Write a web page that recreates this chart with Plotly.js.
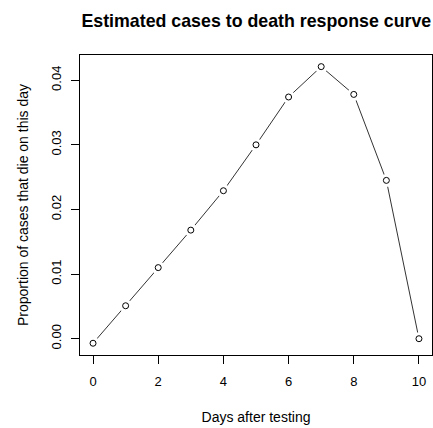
<!DOCTYPE html>
<html>
<head>
<meta charset="utf-8">
<script src="https://cdn.plot.ly/plotly-3.0.1.min.js"></script>
<style>html,body{margin:0;padding:0;background:#fff;}#chart{width:433px;height:428px;}</style>
</head>
<body>
<div id="chart"></div>
<script>
var days = [0, 1, 2, 3, 4, 5, 6, 7, 8, 9, 10];
var proportion = [-0.0007, 0.0051, 0.0110, 0.0168, 0.0229, 0.0300, 0.0374, 0.0421, 0.0378, 0.0245, 0.0000];
var xTicks = [0, 2, 4, 6, 8, 10];
var yTicks = [0.00, 0.01, 0.02, 0.03, 0.04];
var yTickText = ["0.00", "0.01", "0.02", "0.03", "0.04"];

var font = "Liberation Sans, Arial, sans-serif";
var traces = [
  {x: days, y: proportion, type: "scatter", mode: "lines",
   line: {color: "#333", width: 1}, hoverinfo: "skip", showlegend: false},
  {x: days, y: proportion, type: "scatter", mode: "markers",
   marker: {symbol: "circle", size: 13, color: "#fff", line: {width: 0}},
   hoverinfo: "skip", showlegend: false},
  {x: days, y: proportion, type: "scatter", mode: "markers",
   marker: {symbol: "circle-open", size: 6, color: "#000", line: {width: 1, color: "#000"}},
   showlegend: false}
];
var layout = {
  width: 433, height: 428,
  margin: {l: 80, r: 1, t: 55, b: 73, pad: 0},
  paper_bgcolor: "#fff", plot_bgcolor: "#fff",
  font: {family: font, size: 13, color: "#000"},
  title: {text: "<b>Estimated cases to death response curve</b>", x: 0.592, xanchor: "center",
          y: 0.951, yanchor: "middle", font: {family: font, size: 17.8, color: "#000"}},
  xaxis: {range: [-0.4, 10.4], tickvals: xTicks, ticktext: xTicks.map(String),
          showgrid: false, zeroline: false, showline: true, mirror: true, linecolor: "#000", linewidth: 1,
          ticks: "outside", ticklen: 8, tickcolor: "#000", tickwidth: 1,
          tickfont: {family: font, size: 13, color: "#000"}, ticklabelstandoff: 6,
          title: {text: "Days after testing", font: {family: font, size: 14, color: "#000"}, standoff: 24}},
  yaxis: {range: [-0.00252, 0.0439], tickvals: yTicks, ticktext: yTickText, tickangle: -90,
          showgrid: false, zeroline: false, showline: true, mirror: true, linecolor: "#000", linewidth: 1,
          ticks: "outside", ticklen: 8, tickcolor: "#000", tickwidth: 1,
          tickfont: {family: font, size: 13, color: "#000"}, ticklabelstandoff: 5,
          title: {text: "Proportion of cases that die on this day", font: {family: font, size: 14, color: "#000"}, standoff: 16}}
};
Plotly.newPlot("chart", traces, layout, {staticPlot: true, displayModeBar: false});
</script>
</body>
</html>
